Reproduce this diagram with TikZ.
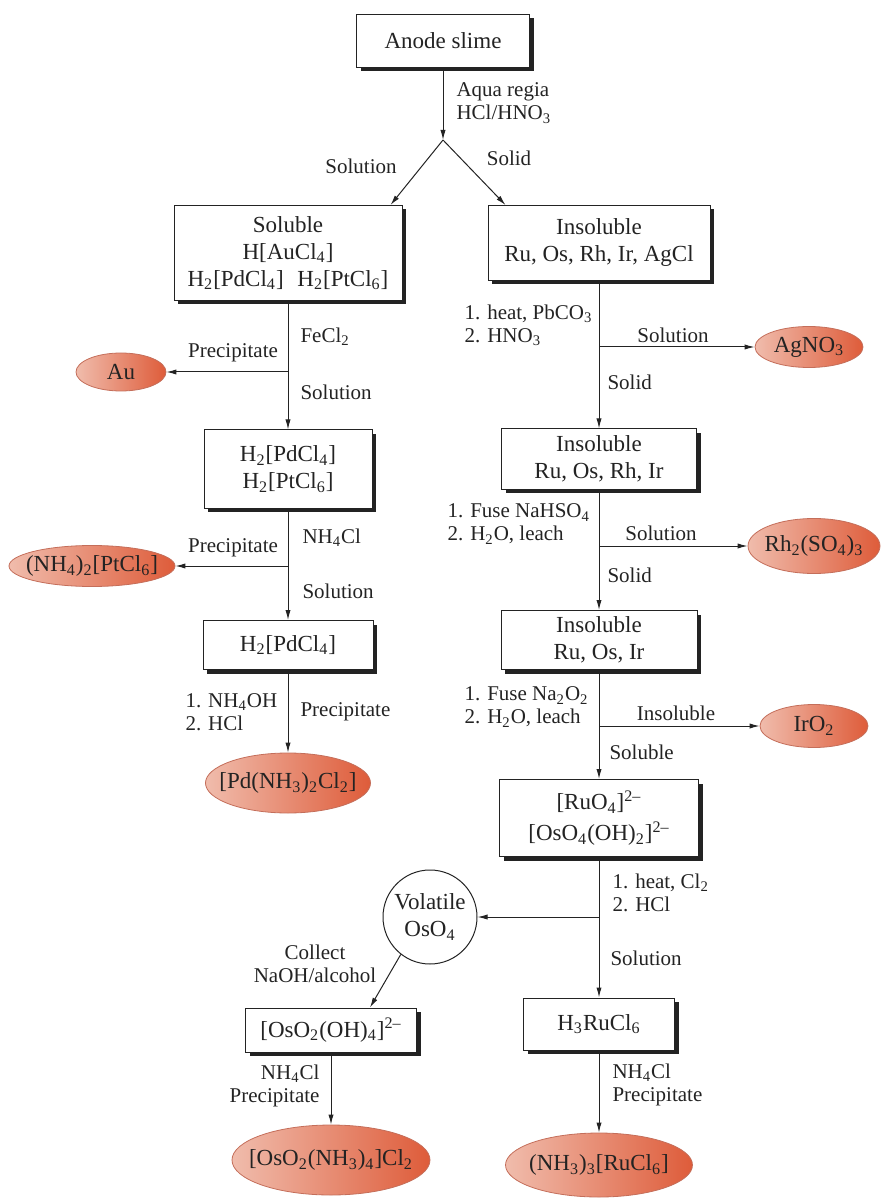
\documentclass[tikz,border=0pt]{standalone}
\usepackage{fontspec}
\setmainfont{Liberation Serif}
\usetikzlibrary{shapes.geometric,arrows.meta}
\newcommand{\chsub}[1]{\textsubscript{#1}}
\newcommand{\chsup}[1]{\textsuperscript{#1}}
\newcommand{\prd}[1]{\makebox[0pt][c]{#1}}
\definecolor{inkgray}{RGB}{35,35,35}
\definecolor{ellEdge}{RGB}{196,110,90}
\definecolor{ellLeft}{RGB}{240,188,172}
\definecolor{ellMid}{RGB}{252,232,224}
\definecolor{ellRight}{RGB}{222,92,58}
\tikzset{>={Latex[length=5pt,width=2.6pt]}}
\tikzset{
  stage/.style={draw=inkgray, fill=white, line width=0.5pt, align=center, inner sep=0pt,
    font=\fontsize{11.5}{13.5}\selectfont,
    preaction={draw=none, fill=inkgray, transform canvas={xshift=2pt, yshift=-2pt}}},
  product/.style={ellipse, draw=ellEdge, line width=0.4pt, left color=ellLeft,
    middle color=ellMid, right color=ellRight, inner sep=0pt,
    font=\fontsize{11.5}{13.5}\selectfont},
  lbl/.style={font=\fontsize{10.5}{11.5}\selectfont, inner sep=0pt}
}

\begin{document}
\begin{tikzpicture}[x=0.5pt, y=-0.5pt, line width=0.5pt, color=inkgray]
  \useasboundingbox (0,0) rectangle (888,1202);
  % boxes
  \node[stage, minimum width=86.5pt, minimum height=26.5pt] (anode) at (443,41) {Anode slime};
  \node[stage, minimum width=114pt, minimum height=47.5pt] (soluble) at (288,253)
    {Soluble\\H[AuCl\chsub{4}]\\H\chsub{2}[PdCl\chsub{4}]\hspace{0.6em}H\chsub{2}[PtCl\chsub{6}]};
  \node[stage, minimum width=111pt, minimum height=37.5pt] (insol1) at (599,243)
    {Insoluble\\Ru, Os, Rh, Ir, AgCl};
  \node[stage, minimum width=84pt, minimum height=39pt] (pdpt) at (288,469)
    {H\chsub{2}[PdCl\chsub{4}]\\H\chsub{2}[PtCl\chsub{6}]};
  \node[stage, minimum width=85pt, minimum height=24.5pt] (pdonly) at (288,645)
    {H\chsub{2}[PdCl\chsub{4}]};
  \node[stage, minimum width=97.5pt, minimum height=30pt] (insol2) at (599,459)
    {Insoluble\\Ru, Os, Rh, Ir};
  \node[stage, minimum width=98pt, minimum height=29.5pt] (insol3) at (599,640)
    {Insoluble\\Ru, Os, Ir};
  \node[stage, minimum width=99.5pt, minimum height=38.5pt] (ruos) at (599,818)
    {[RuO\chsub{4}]\chsup{2\textendash}\\[2pt][OsO\chsub{4}(OH)\chsub{2}]\chsup{2\textendash}};
  \node[stage, minimum width=85.5pt, minimum height=22pt] (osoh) at (331,1030)
    {[OsO\chsub{2}(OH)\chsub{4}]\chsup{2\textendash}};
  \node[stage, minimum width=75.5pt, minimum height=26pt] (rucl) at (599,1024)
    {H\chsub{3}RuCl\chsub{6}};
  \node[draw, circle, fill=white, minimum size=47pt, inner sep=0pt, align=center,
    font=\fontsize{11.5}{13.5}\selectfont] (osvol) at (430,917) {Volatile\\OsO\chsub{4}};
  % products
  \node[product, minimum width=45pt, minimum height=19pt] (au) at (121,372) {\prd{Au}};
  \node[product, minimum width=83pt, minimum height=20.5pt] (ptsalt) at (92,566)
    {\prd{(NH\chsub{4})\chsub{2}[PtCl\chsub{6}]}};
  \node[product, minimum width=82.5pt, minimum height=30pt] (pdamm) at (288,783)
    {\prd{[Pd(NH\chsub{3})\chsub{2}Cl\chsub{2}]}};
  \node[product, minimum width=54pt, minimum height=20.5pt] (agno) at (809,347)
    {\prd{AgNO\chsub{3}}};
  \node[product, minimum width=66pt, minimum height=27.5pt] (rhso) at (814,546)
    {\prd{Rh\chsub{2}(SO\chsub{4})\chsub{3}}};
  \node[product, minimum width=54pt, minimum height=21.5pt] (iro) at (814,726)
    {\prd{IrO\chsub{2}}};
  \node[product, minimum width=99pt, minimum height=35pt] (osamm) at (331,1160)
    {\prd{[OsO\chsub{2}(NH\chsub{3})\chsub{4}]Cl\chsub{2}}};
  \node[product, minimum width=93.5pt, minimum height=32pt] (ruamm) at (599,1165)
    {\prd{(NH\chsub{3})\chsub{3}[RuCl\chsub{6}]}};
  % branch points
  \coordinate (j1) at (443,140);
  \coordinate (j2) at (288,372);
  \coordinate (j3) at (288,566);
  \coordinate (j4) at (599,347);
  \coordinate (j5) at (599,546);
  \coordinate (j6) at (599,726);
  \coordinate (j7) at (599,917);
  % connectors
  \draw[->] (anode) -- (j1);
  \draw[->] (j1) -- ([xshift=-6pt]soluble.north east);
  \draw[->] (j1) -- ([xshift=9pt]insol1.north west);
  \draw (soluble) -- (j2);
  \draw[->] (j2) -- (au);
  \draw[->] (j2) -- (pdpt);
  \draw (pdpt) -- (j3);
  \draw[->] (j3) -- (ptsalt);
  \draw[->] (j3) -- (pdonly);
  \draw[->] (pdonly) -- (pdamm);
  \draw (insol1) -- (j4);
  \draw[->] (j4) -- (agno);
  \draw[->] (j4) -- (insol2);
  \draw (insol2) -- (j5);
  \draw[->] (j5) -- (rhso);
  \draw[->] (j5) -- (insol3);
  \draw (insol3) -- (j6);
  \draw[->] (j6) -- (iro);
  \draw[->] (j6) -- (ruos);
  \draw (ruos) -- (j7);
  \draw[->] (j7) -- (osvol);
  \draw[->] (j7) -- (rucl);
  \draw[->] (osvol.232) -- ([xshift=19.5pt]osoh.north);
  \draw[->] (osoh) -- (osamm);
  \draw[->] (rucl) -- (ruamm);
  % labels
  \node[lbl, anchor=west, align=left] (aqua) at (456,103) {Aqua regia\\HCl/HNO\chsub{3}};
  \node[lbl] (solA) at (361,166) {Solution};
  \node[lbl] (sldA) at (509,158) {Solid};
  \node[lbl, anchor=west] (fecl) at (300,337) {FeCl\chsub{2}};
  \node[lbl] (ppA) at (233,353) {Precipitate};
  \node[lbl, anchor=west] (solB) at (300,392) {Solution};
  \node[lbl, anchor=west] (nhA) at (302,538) {NH\chsub{4}Cl};
  \node[lbl] (ppB) at (233,548) {Precipitate};
  \node[lbl, anchor=west] (solC) at (302,591) {Solution};
  \node[lbl, anchor=west, align=left] (nhoh) at (185,712) {1. NH\chsub{4}OH\\2. HCl};
  \node[lbl, anchor=west] (ppC) at (300,712) {Precipitate};
  \node[lbl, anchor=west, align=left] (pbco) at (464,325) {1. heat, PbCO\chsub{3}\\2. HNO\chsub{3}};
  \node[lbl] (solD) at (673,335) {Solution};
  \node[lbl, anchor=west] (sldB) at (607,382) {Solid};
  \node[lbl, anchor=west, align=left] (nahso) at (447,524) {1. Fuse NaHSO\chsub{4}\\2. H\chsub{2}O, leach};
  \node[lbl] (solE) at (661,533) {Solution};
  \node[lbl, anchor=west] (sldC) at (607,575) {Solid};
  \node[lbl, anchor=west, align=left] (naoo) at (464,707) {1. Fuse Na\chsub{2}O\chsub{2}\\2. H\chsub{2}O, leach};
  \node[lbl] (insl) at (676,713) {Insoluble};
  \node[lbl, anchor=west] (sol) at (609,752) {Soluble};
  \node[lbl, anchor=west, align=left] (clheat) at (612,893) {1. heat, Cl\chsub{2}\\2. HCl};
  \node[lbl, anchor=west] (solF) at (610,958) {Solution};
  \node[lbl, align=center] (collect) at (315,964) {Collect\\NaOH/alcohol};
  \node[lbl, anchor=east, align=right] (nhB) at (320,1086) {NH\chsub{4}Cl\\Precipitate};
  \node[lbl, anchor=west, align=left] (nhC) at (612,1085) {NH\chsub{4}Cl\\Precipitate};
\end{tikzpicture}
\end{document}
